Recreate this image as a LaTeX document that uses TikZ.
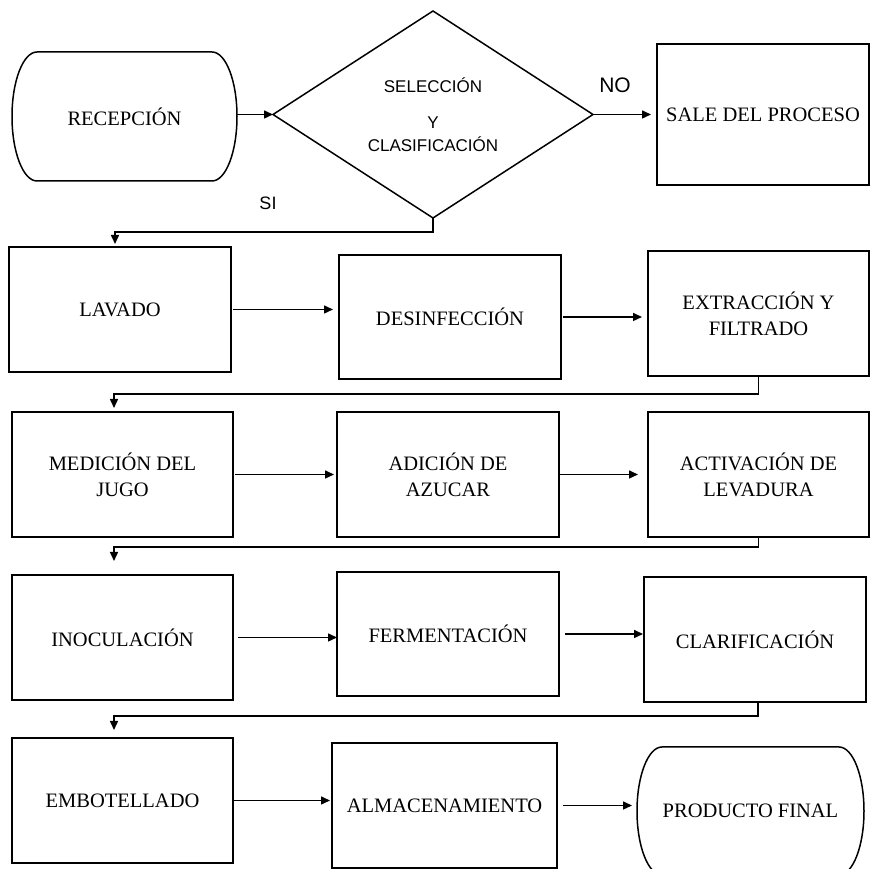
\documentclass[tikz,border=0pt]{standalone}
\usepackage{fontspec}
\setmainfont{Liberation Serif}
\newfontfamily\arialf{Liberation Sans}
\usetikzlibrary{arrows.meta,shapes.geometric,calc}
\begin{document}
\begin{tikzpicture}[x=1pt,y=1pt,
  line width=1.5pt,
  box/.style={draw, rectangle, inner sep=2pt, outer sep=0pt, align=center, font=\fontsize{20.5}{26}\selectfont},
  term/.style={rectangle, inner sep=2pt, outer sep=0pt, align=center, font=\fontsize{20.5}{26}\selectfont},
  arr/.style={-{Triangle[length=9pt,width=8pt]}},
  lbl/.style={font=\arialf\fontsize{18}{21}\selectfont},
  bigl/.style={font=\arialf\fontsize{21}{25}\selectfont}
]
\useasboundingbox (0,0) rectangle (871,869);

% terminals and decision
\node[term, minimum width=225, minimum height=129] (rec) at (124.5,752.5) {RECEPCIÓN};
\draw ([xshift=25pt]rec.north west) -- ([xshift=-25pt]rec.north east)
  arc[start angle=90, end angle=-90, x radius=25pt, y radius=64.5pt]
  -- ([xshift=25pt]rec.south west)
  arc[start angle=270, end angle=90, x radius=25pt, y radius=64.5pt] -- cycle;

\node[draw, diamond, aspect=1.546, minimum width=320, minimum height=207, inner sep=0pt, outer sep=0pt,
  align=center, font=\arialf\fontsize{17}{20}\selectfont] (dia) at (433,754.5)
  {SELECCIÓN\\[16pt]Y\\[3pt]CLASIFICACIÓN};

\node[box, minimum width=212, minimum height=141] (sale) at (763,754.5) {SALE DEL PROCESO};
\node[bigl] (no) at (615,784) {NO};
\node[lbl] (si) at (268,666) {SI};

% row 1
\node[box, minimum width=222, minimum height=125] (lav) at (120,559.5) {LAVADO};
\node[box, minimum width=222, minimum height=124] (des) at (450,552) {DESINFECCIÓN};
\node[box, minimum width=221, minimum height=125] (ext) at (758.5,555.5) {EXTRACCIÓN Y\\FILTRADO};

% row 2
\node[box, minimum width=221, minimum height=125] (med) at (122.5,394.5) {MEDICIÓN DEL\\JUGO};
\node[box, minimum width=222, minimum height=125] (adi) at (448,394.5) {ADICIÓN DE\\AZUCAR};
\node[box, minimum width=221, minimum height=125] (act) at (758.5,394.5) {ACTIVACIÓN DE\\LEVADURA};

% row 3
\node[box, minimum width=221, minimum height=125] (ino) at (122.5,231.5) {INOCULACIÓN};
\node[box, minimum width=222, minimum height=124] (fer) at (448,235) {FERMENTACIÓN};
\node[box, minimum width=222, minimum height=125] (cla) at (755,229.5) {CLARIFICACIÓN};

% row 4
\node[box, minimum width=221, minimum height=125] (emb) at (122.5,68.5) {EMBOTELLADO};
\node[box, minimum width=225, minimum height=125] (alm) at (444.5,63.5) {ALMACENAMIENTO};
\node[term, minimum width=227, minimum height=128] (prod) at (750.5,58) {PRODUCTO FINAL};
\draw ([xshift=25pt]prod.north west) -- ([xshift=-25pt]prod.north east)
  arc[start angle=90, end angle=-90, x radius=25pt, y radius=64pt]
  -- ([xshift=25pt]prod.south west)
  arc[start angle=270, end angle=90, x radius=25pt, y radius=64pt] -- cycle;

% connectors
\draw[arr] (rec.east |- dia.west) -- (dia.west);
\draw[arr, shorten >=6pt] (dia.east) -- (dia.east -| sale.west);
\coordinate (c1) at (115,637);
\draw[arr, shorten >=3pt] (dia.south) |- (c1) -- (c1 |- lav.north);

\draw[arr, shorten <=2pt, shorten >=6pt] (lav.east) -- (lav.east -| des.west);
\draw[arr, shorten <=2pt, shorten >=6pt] (des.east) -- (des.east -| ext.west);
\coordinate (c2) at (114,475);
\draw[arr, shorten >=4pt] (ext.south) |- (c2) -- (c2 |- med.north);

\draw[arr, shorten <=2pt, shorten >=3pt] (med.east) -- (med.east -| adi.west);
\draw[arr, shorten <=1pt, shorten >=10pt] (adi.east) -- (adi.east -| act.west);
\coordinate (c3) at (114,322);
\draw[arr, shorten >=14pt] (act.south) |- (c3) -- (c3 |- ino.north);

\draw[arr, shorten <=5pt] (ino.east) -- (ino.east -| fer.west);
\draw[arr, shorten <=6pt, shorten >=1pt] (fer.east) -- (fer.east -| cla.west);
\coordinate (c4) at (114,153);
\draw[arr, shorten >=8pt] ([xshift=3pt]cla.south) |- (c4) -- (c4 |- emb.north);

\draw[arr, shorten >=2pt] (emb.east) -- (emb.east -| alm.west);
\draw[arr, shorten <=6pt, shorten >=5pt] (alm.east) -- (alm.east -| prod.west);
\end{tikzpicture}
\end{document}
